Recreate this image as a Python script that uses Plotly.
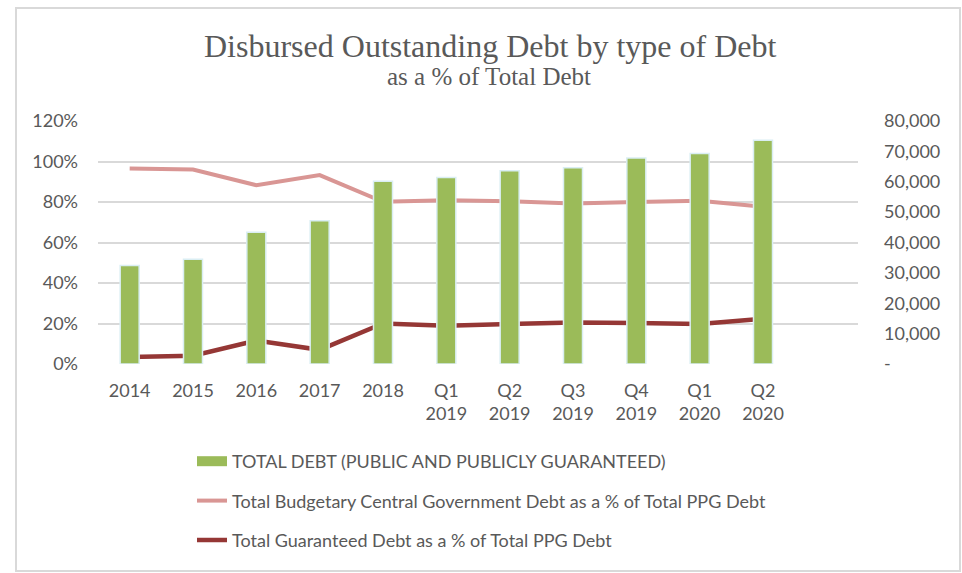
import plotly.graph_objects as go

categories = ["2014", "2015", "2016", "2017", "2018", "Q1<br>2019", "Q2<br>2019",
              "Q3<br>2019", "Q4<br>2019", "Q1<br>2020", "Q2<br>2020"]
total_debt = [32400, 34500, 43400, 47200, 60200, 61400, 63600, 64600, 67800, 69300, 73700]
budgetary_pct = [96.5, 96.0, 88.3, 93.3, 80.1, 80.9, 80.4, 79.3, 80.0, 80.6, 77.6]
guaranteed_pct = [3.4, 4.1, 11.6, 7.0, 20.0, 18.9, 19.7, 20.5, 20.2, 19.7, 22.3]

left_ticks = [0, 20, 40, 60, 80, 100, 120]
left_labels = ["0%", "20%", "40%", "60%", "80%", "100%", "120%"]
right_ticks = [0, 10000, 20000, 30000, 40000, 50000, 60000, 70000, 80000]
right_labels = ["-", "10,000", "20,000", "30,000", "40,000", "50,000", "60,000", "70,000", "80,000"]

FONT = "Lato, 'Open Sans', sans-serif"
SERIF = "'Liberation Serif', 'DejaVu Serif', serif"
GREY = "#595959"
GREEN = "#9BBB59"

# plot area in pixels
L, R, T, B = 98, 858, 121, 364
PH = B - T
PW = R - L


def py(y):
    return (B - y) / PH


def px(x):
    return (x - L) / PW


fig = go.Figure()
fig.add_trace(go.Bar(
    x=categories, y=total_debt, yaxis="y2", name="TOTAL DEBT (PUBLIC AND PUBLICLY GUARANTEED)",
    marker=dict(color=GREEN, line=dict(color="#DAEEF3", width=1.5)),
    width=0.3, showlegend=False,
))
# legend stand-in for the bar series (wide flat swatch as in the original)
fig.add_trace(go.Scatter(
    x=[None], y=[None], mode="lines", name="TOTAL DEBT (PUBLIC AND PUBLICLY GUARANTEED)",
    line=dict(color=GREEN, width=11), legendgroup="a",
))
fig.add_trace(go.Scatter(
    x=categories, y=budgetary_pct, mode="lines",
    name="Total Budgetary Central Government Debt as a % of Total PPG Debt",
    line=dict(color="#D99694", width=4), legendgroup="b",
))
fig.add_trace(go.Scatter(
    x=categories, y=guaranteed_pct, mode="lines",
    name="Total Guaranteed Debt as a % of Total PPG Debt",
    line=dict(color="#953735", width=4.5), legendgroup="c",
))

fig.update_layout(
    width=962, height=573,
    margin=dict(l=L, r=962 - R, t=T, b=573 - B, autoexpand=False),
    paper_bgcolor="white", plot_bgcolor="white",
    font=dict(family=FONT, size=18, color=GREY),
    showlegend=True,
    legend=dict(
        x=px(192), xanchor="left", y=py(443), yanchor="top",
        orientation="v", traceorder="grouped", tracegroupgap=13,
        font=dict(family=FONT, size=18, color=GREY),
        bgcolor="rgba(0,0,0,0)",
    ),
    xaxis=dict(
        type="category", range=[-0.5, 11.5], showgrid=False, showline=False,
        ticks="", tickfont=dict(size=18, color=GREY), ticklabelstandoff=14,
    ),
    yaxis=dict(
        range=[0, 120], tickvals=left_ticks, ticktext=left_labels,
        showgrid=True, gridcolor="#D9D9D9", gridwidth=1.5, zeroline=False,
        showline=False, ticks="", tickfont=dict(size=18, color=GREY),
        ticklabelstandoff=19,
    ),
    yaxis2=dict(
        range=[0, 80000], tickvals=right_ticks, ticktext=right_labels,
        overlaying="y", side="right", showgrid=False, zeroline=False,
        showline=False, ticks="", tickfont=dict(size=18, color=GREY),
        ticklabelstandoff=25,
    ),
    annotations=[
        dict(text="Disbursed Outstanding Debt by type of Debt", xref="paper", yref="paper",
             x=px(490), y=py(46), xanchor="center", yanchor="middle", showarrow=False,
             font=dict(family=SERIF, size=32, color=GREY)),
        dict(text="as a % of Total Debt", xref="paper", yref="paper",
             x=px(489), y=py(77), xanchor="center", yanchor="middle", showarrow=False,
             font=dict(family=SERIF, size=25, color=GREY)),
    ],
    shapes=[dict(
        type="rect", xref="paper", yref="paper",
        x0=px(16), x1=px(960), y0=py(571), y1=py(8),
        line=dict(color="#D9D9D9", width=2), fillcolor="rgba(0,0,0,0)", layer="below",
    )],
)

fig.write_html(
    "out.html",
    config={"displayModeBar": False},
    post_script="document.body.style.margin='0';document.body.style.overflow='hidden';",
)
